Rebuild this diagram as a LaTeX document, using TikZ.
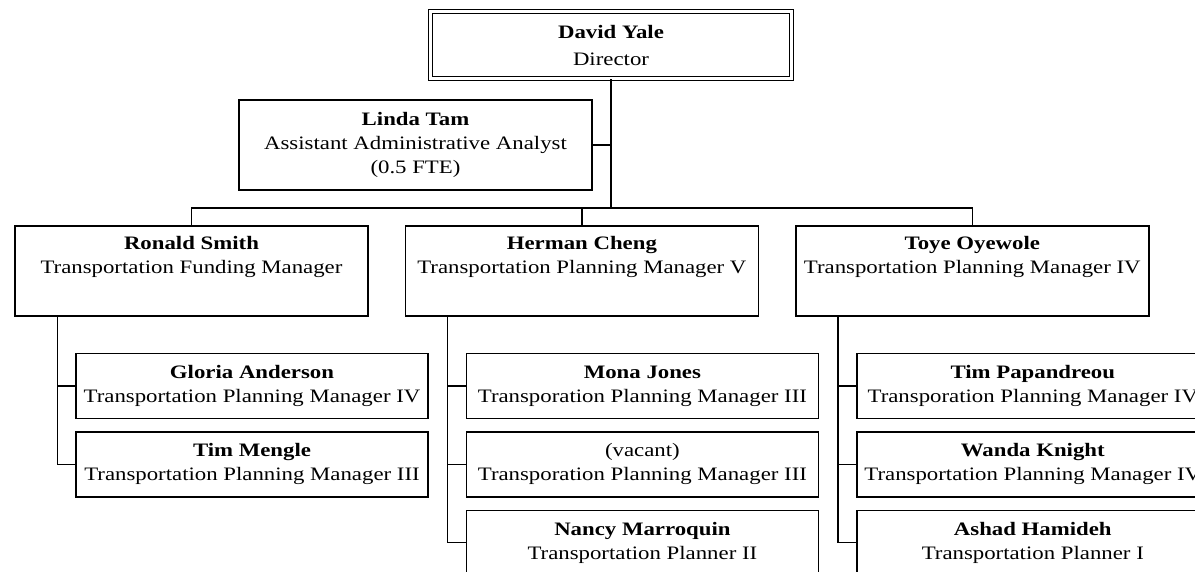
\documentclass[tikz,border=0pt]{standalone}
\usepackage{fontspec}
\setmainfont[FakeStretch=1.2]{Liberation Serif}
\usepackage{tikz}
\usetikzlibrary{positioning,calc}
\tikzstyle{post} = [draw, line width=1.4pt, align=center, minimum width=352pt, minimum height=65pt, inner sep=2pt, font=\fontsize{19}{24}\selectfont]
\tikzstyle{head} = [post, minimum width=353pt, minimum height=90pt]
\tikzstyle{chief} = [post, double, double distance=2.4pt, line width=1.4pt, minimum width=361pt, minimum height=67pt]
\tikzstyle{link} = [line width=1.4pt]

\begin{document}
\begin{tikzpicture}[x=1pt,y=-1pt]
	\useasboundingbox (0,0) rectangle (1195,571);
	\clip (0,0) rectangle (1195,571);
	% top of the chart
	\node (director) [chief] at (611,45) {\textbf{David Yale}\\[3pt]Director};
	\node (linda) [head] at (415.5,145) {\textbf{Linda Tam}\\Assistant Administrative Analyst\\(0.5 FTE)};
	% managers
	\node (ronald) [head] at (191.5,271) {\textbf{Ronald Smith}\\Transportation Funding Manager\\\strut};
	\node (herman) [head, right=36pt of ronald] {\textbf{Herman Cheng}\\Transportation Planning Manager V\\\strut};
	\node (toye) [head, right=36pt of herman] {\textbf{Toye Oyewole}\\Transportation Planning Manager IV\\\strut};
	% staff under each manager
	\node (gloria) [post, below right=36pt and 61pt of ronald.south west] {\textbf{Gloria Anderson}\\Transportation Planning Manager IV};
	\node (timm) [post, below=12pt of gloria] {\textbf{Tim Mengle}\\Transportation Planning Manager III};
	\node (mona) [post, below right=36pt and 61pt of herman.south west] {\textbf{Mona Jones}\\Transporation Planning Manager III};
	\node (vacant) [post, below=12pt of mona] {(vacant)\\Transporation Planning Manager III};
	\node (nancy) [post, below=12pt of vacant] {\textbf{Nancy Marroquin}\\Transportation Planner II};
	\node (timp) [post, below right=36pt and 61pt of toye.south west] {\textbf{Tim Papandreou}\\Transporation Planning Manager IV};
	\node (wanda) [post, below=12pt of timp] {\textbf{Wanda Knight}\\Transportation Planning Manager IV};
	\node (ashad) [post, below=12pt of wanda] {\textbf{Ashad Hamideh}\\Transportation Planner I};
	% helper coordinates
	\coordinate (bus) at (director.south |- 0,208);
	\coordinate (rspine) at ([xshift=43pt]ronald.south west);
	\coordinate (hspine) at ([xshift=43pt]herman.south west);
	\coordinate (tspine) at ([xshift=43pt]toye.south west);
	\draw[link] (director) -- (bus);
	\draw[link] (linda.east) -- (linda.east -| bus);
	\draw[link] (ronald.north) |- (bus) -| (toye.north);
	\draw[link] (herman.north) -- (herman.north |- bus);
	\foreach \kid in {gloria,timm} \draw[link] (rspine) |- (\kid.west);
	\foreach \kid in {mona,vacant,nancy} \draw[link] (hspine) |- (\kid.west);
	\foreach \kid in {timp,wanda,ashad} \draw[link] (tspine) |- (\kid.west);
\end{tikzpicture}
\end{document}
